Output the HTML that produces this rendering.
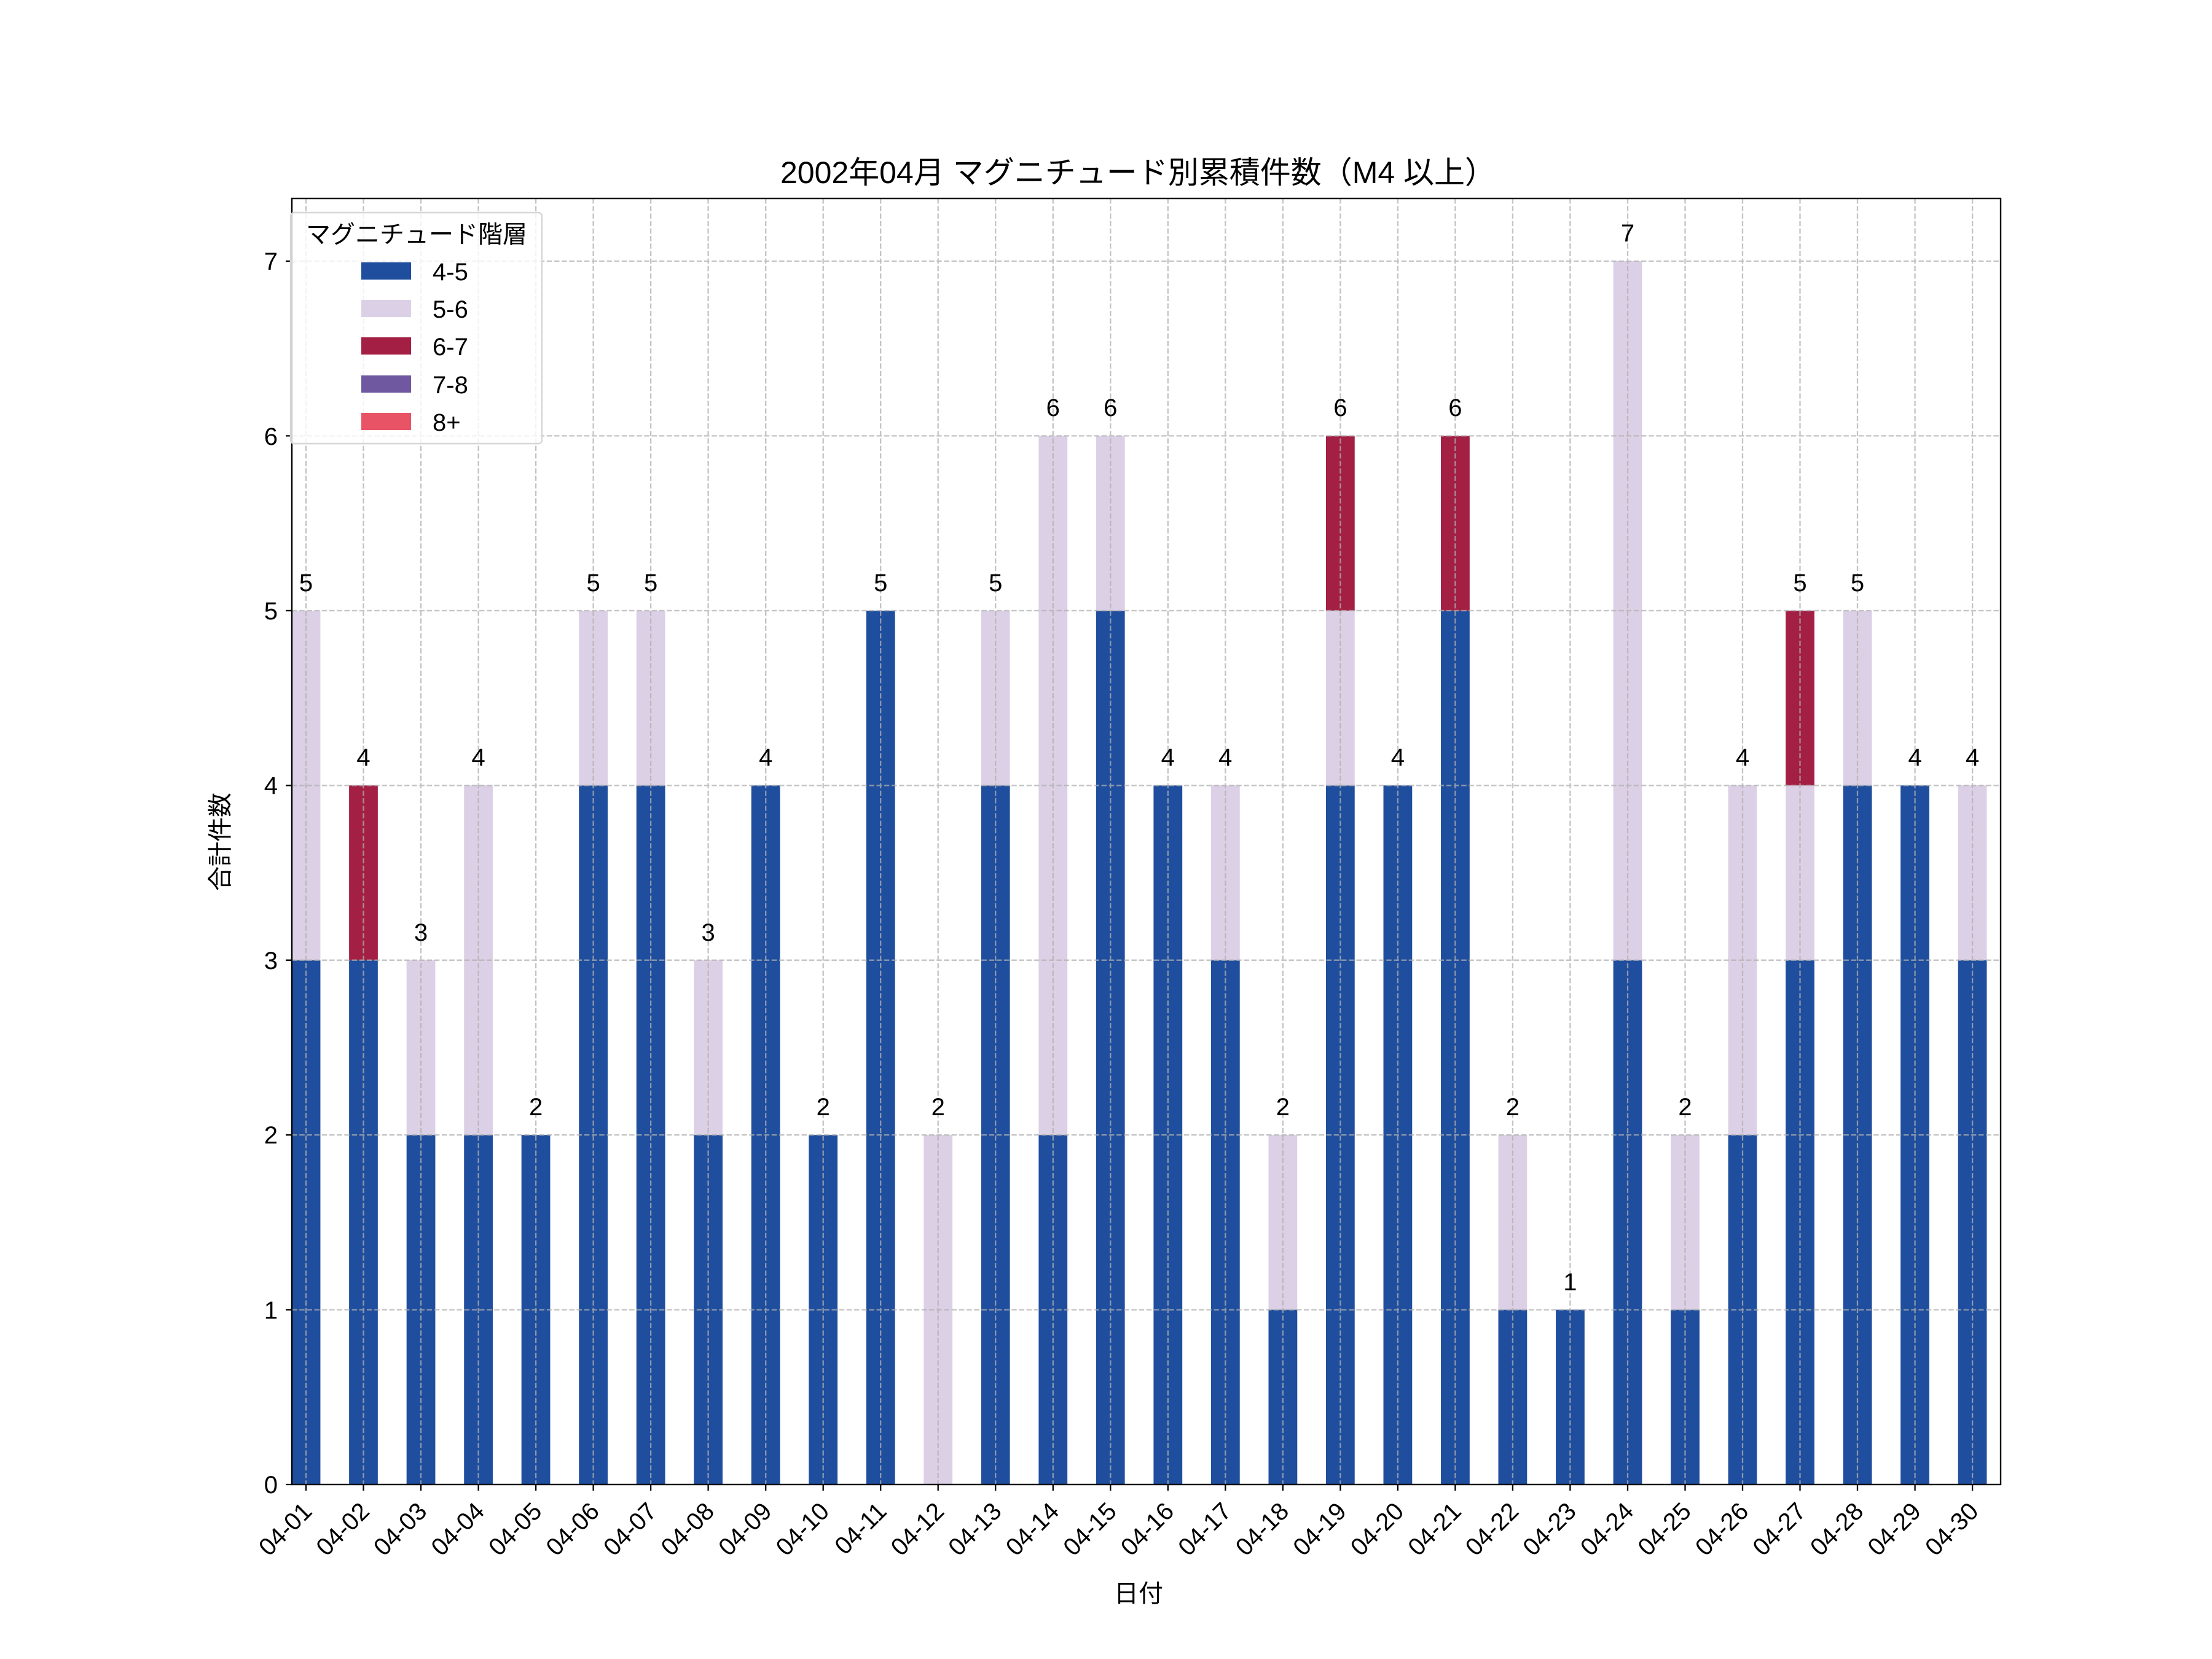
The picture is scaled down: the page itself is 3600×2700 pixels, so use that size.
<!DOCTYPE html>
<html><head><meta charset="utf-8"><style>
html,body{margin:0;padding:0;background:#fff;}
svg{display:block;}
text{font-family:"Liberation Sans","Noto Sans CJK JP",sans-serif;fill:#000;}
</style></head><body>
<svg width="3600" height="2700" viewBox="0 0 3600 2700" xmlns="http://www.w3.org/2000/svg">
<rect width="3600" height="2700" fill="#fff"/>
<text x="1852" y="298" font-size="50" text-anchor="middle">2002年04月 マグニチュード別累積件数（M4 以上）</text>
<!-- bars -->
<g transform="translate(42.53 2416) scale(0.99204 -284.43)">
<g fill="#1f4e9e">
<rect x="435.6" y="0" width="47.14" height="3"/>
<rect x="529.8" y="0" width="47.14" height="3"/>
<rect x="624.1" y="0" width="47.14" height="2"/>
<rect x="718.4" y="0" width="47.14" height="2"/>
<rect x="812.6" y="0" width="47.14" height="2"/>
<rect x="906.9" y="0" width="47.14" height="4"/>
<rect x="1001.2" y="0" width="47.14" height="4"/>
<rect x="1095.4" y="0" width="47.14" height="2"/>
<rect x="1189.7" y="0" width="47.14" height="4"/>
<rect x="1284.0" y="0" width="47.14" height="2"/>
<rect x="1378.3" y="0" width="47.14" height="5"/>
<rect x="1566.8" y="0" width="47.14" height="4"/>
<rect x="1661.1" y="0" width="47.14" height="2"/>
<rect x="1755.3" y="0" width="47.14" height="5"/>
<rect x="1849.6" y="0" width="47.14" height="4"/>
<rect x="1943.9" y="0" width="47.14" height="3"/>
<rect x="2038.2" y="0" width="47.14" height="1"/>
<rect x="2132.4" y="0" width="47.14" height="4"/>
<rect x="2226.7" y="0" width="47.14" height="4"/>
<rect x="2321.0" y="0" width="47.14" height="5"/>
<rect x="2415.2" y="0" width="47.14" height="1"/>
<rect x="2509.5" y="0" width="47.14" height="1"/>
<rect x="2603.8" y="0" width="47.14" height="3"/>
<rect x="2698.1" y="0" width="47.14" height="1"/>
<rect x="2792.3" y="0" width="47.14" height="2"/>
<rect x="2886.6" y="0" width="47.14" height="3"/>
<rect x="2980.9" y="0" width="47.14" height="4"/>
<rect x="3075.1" y="0" width="47.14" height="4"/>
<rect x="3169.4" y="0" width="47.14" height="3"/>
</g>
<g fill="#dcd0e6">
<rect x="435.6" y="3" width="47.14" height="2"/>
<rect x="624.1" y="2" width="47.14" height="1"/>
<rect x="718.4" y="2" width="47.14" height="2"/>
<rect x="906.9" y="4" width="47.14" height="1"/>
<rect x="1001.2" y="4" width="47.14" height="1"/>
<rect x="1095.4" y="2" width="47.14" height="1"/>
<rect x="1472.5" y="0" width="47.14" height="2"/>
<rect x="1566.8" y="4" width="47.14" height="1"/>
<rect x="1661.1" y="2" width="47.14" height="4"/>
<rect x="1755.3" y="5" width="47.14" height="1"/>
<rect x="1943.9" y="3" width="47.14" height="1"/>
<rect x="2038.2" y="1" width="47.14" height="1"/>
<rect x="2132.4" y="4" width="47.14" height="1"/>
<rect x="2415.2" y="1" width="47.14" height="1"/>
<rect x="2603.8" y="3" width="47.14" height="4"/>
<rect x="2698.1" y="1" width="47.14" height="1"/>
<rect x="2792.3" y="2" width="47.14" height="2"/>
<rect x="2886.6" y="3" width="47.14" height="1"/>
<rect x="2980.9" y="4" width="47.14" height="1"/>
<rect x="3169.4" y="3" width="47.14" height="1"/>
</g>
<g fill="#a31f44">
<rect x="529.8" y="3" width="47.14" height="1"/>
<rect x="2132.4" y="5" width="47.14" height="1"/>
<rect x="2321.0" y="5" width="47.14" height="1"/>
<rect x="2886.6" y="4" width="47.14" height="1"/>
</g>
</g>
<!-- grid -->
<g stroke="#b0b0b0" stroke-width="2.3" stroke-dasharray="8.5,3.7" opacity="0.75" fill="none">
<path d="M475 2131.6H3256M475 1847.1H3256M475 1562.7H3256M475 1278.3H3256M475 993.9H3256M475 709.4H3256M475 425H3256"/>
<path d="M498 323V2416M591.5 323V2416M685 323V2416M778.6 323V2416M872.1 323V2416M965.6 323V2416M1059.1 323V2416M1152.6 323V2416M1246.2 323V2416M1339.7 323V2416M1433.2 323V2416M1526.7 323V2416M1620.2 323V2416M1713.8 323V2416M1807.3 323V2416M1900.8 323V2416M1994.3 323V2416M2087.8 323V2416M2181.4 323V2416M2274.9 323V2416M2368.4 323V2416M2461.9 323V2416M2555.4 323V2416M2649 323V2416M2742.5 323V2416M2836 323V2416M2929.5 323V2416M3023 323V2416M3116.6 323V2416M3210.1 323V2416"/>
</g>
<!-- value labels -->
<g font-size="40" text-anchor="middle">
<text x="498" y="962">5</text>
<text x="591.5" y="1246">4</text>
<text x="685" y="1531">3</text>
<text x="778.6" y="1246">4</text>
<text x="872.1" y="1815">2</text>
<text x="965.6" y="962">5</text>
<text x="1059.1" y="962">5</text>
<text x="1152.6" y="1531">3</text>
<text x="1246.2" y="1246">4</text>
<text x="1339.7" y="1815">2</text>
<text x="1433.2" y="962">5</text>
<text x="1526.7" y="1815">2</text>
<text x="1620.2" y="962">5</text>
<text x="1713.8" y="677">6</text>
<text x="1807.3" y="677">6</text>
<text x="1900.8" y="1246">4</text>
<text x="1994.3" y="1246">4</text>
<text x="2087.8" y="1815">2</text>
<text x="2181.4" y="677">6</text>
<text x="2274.9" y="1246">4</text>
<text x="2368.4" y="677">6</text>
<text x="2461.9" y="1815">2</text>
<text x="2555.4" y="2100">1</text>
<text x="2649" y="393">7</text>
<text x="2742.5" y="1815">2</text>
<text x="2836" y="1246">4</text>
<text x="2929.5" y="962">5</text>
<text x="3023" y="962">5</text>
<text x="3116.6" y="1246">4</text>
<text x="3210.1" y="1246">4</text>
</g>
<!-- spines -->
<rect x="475" y="323" width="2781" height="2093" fill="none" stroke="#000" stroke-width="2.4"/>
<!-- ticks -->
<g stroke="#000" stroke-width="2.3">
<path d="M465 2416H475M465 2131.6H475M465 1847.1H475M465 1562.7H475M465 1278.3H475M465 993.9H475M465 709.4H475M465 425H475"/>
<path d="M498 2416v10M591.5 2416v10M685 2416v10M778.6 2416v10M872.1 2416v10M965.6 2416v10M1059.1 2416v10M1152.6 2416v10M1246.2 2416v10M1339.7 2416v10M1433.2 2416v10M1526.7 2416v10M1620.2 2416v10M1713.8 2416v10M1807.3 2416v10M1900.8 2416v10M1994.3 2416v10M2087.8 2416v10M2181.4 2416v10M2274.9 2416v10M2368.4 2416v10M2461.9 2416v10M2555.4 2416v10M2649 2416v10M2742.5 2416v10M2836 2416v10M2929.5 2416v10M3023 2416v10M3116.6 2416v10M3210.1 2416v10"/>
</g>
<g font-size="40" text-anchor="end">
<text x="452" y="2430">0</text>
<text x="452" y="2146">1</text>
<text x="452" y="1861">2</text>
<text x="452" y="1577">3</text>
<text x="452" y="1292">4</text>
<text x="452" y="1008">5</text>
<text x="452" y="724">6</text>
<text x="452" y="439">7</text>
</g>
<g font-size="40" text-anchor="end">
<text transform="translate(510 2462) rotate(-45)">04-01</text>
<text transform="translate(603.5 2462) rotate(-45)">04-02</text>
<text transform="translate(697 2462) rotate(-45)">04-03</text>
<text transform="translate(790.6 2462) rotate(-45)">04-04</text>
<text transform="translate(884.1 2462) rotate(-45)">04-05</text>
<text transform="translate(977.6 2462) rotate(-45)">04-06</text>
<text transform="translate(1071.1 2462) rotate(-45)">04-07</text>
<text transform="translate(1164.6 2462) rotate(-45)">04-08</text>
<text transform="translate(1258.2 2462) rotate(-45)">04-09</text>
<text transform="translate(1351.7 2462) rotate(-45)">04-10</text>
<text transform="translate(1445.2 2462) rotate(-45)">04-11</text>
<text transform="translate(1538.7 2462) rotate(-45)">04-12</text>
<text transform="translate(1632.2 2462) rotate(-45)">04-13</text>
<text transform="translate(1725.8 2462) rotate(-45)">04-14</text>
<text transform="translate(1819.3 2462) rotate(-45)">04-15</text>
<text transform="translate(1912.8 2462) rotate(-45)">04-16</text>
<text transform="translate(2006.3 2462) rotate(-45)">04-17</text>
<text transform="translate(2099.8 2462) rotate(-45)">04-18</text>
<text transform="translate(2193.4 2462) rotate(-45)">04-19</text>
<text transform="translate(2286.9 2462) rotate(-45)">04-20</text>
<text transform="translate(2380.4 2462) rotate(-45)">04-21</text>
<text transform="translate(2473.9 2462) rotate(-45)">04-22</text>
<text transform="translate(2567.4 2462) rotate(-45)">04-23</text>
<text transform="translate(2661 2462) rotate(-45)">04-24</text>
<text transform="translate(2754.5 2462) rotate(-45)">04-25</text>
<text transform="translate(2848 2462) rotate(-45)">04-26</text>
<text transform="translate(2941.5 2462) rotate(-45)">04-27</text>
<text transform="translate(3035 2462) rotate(-45)">04-28</text>
<text transform="translate(3128.6 2462) rotate(-45)">04-29</text>
<text transform="translate(3222.1 2462) rotate(-45)">04-30</text>
</g>
<text x="1853" y="2607" font-size="40" text-anchor="middle">日付</text>
<text transform="translate(372 1370) rotate(-90)" font-size="40" text-anchor="middle">合計件数</text>
<!-- legend -->
<rect x="473" y="346" width="409" height="376" rx="6" fill="#fff" fill-opacity="0.8" stroke="#d6d6d6" stroke-width="2.4"/>
<text x="678" y="395" font-size="40" text-anchor="middle">マグニチュード階層</text>
<rect x="588" y="427" width="81" height="28" fill="#1f4e9e"/>
<rect x="588" y="488" width="81" height="28" fill="#dcd0e6"/>
<rect x="588" y="549" width="81" height="28" fill="#a31f44"/>
<rect x="588" y="611" width="81" height="28" fill="#6f58a0"/>
<rect x="588" y="672" width="81" height="28" fill="#e85466"/>
<g font-size="40">
<text x="704" y="456">4-5</text>
<text x="704" y="517">5-6</text>
<text x="704" y="578">6-7</text>
<text x="704" y="640">7-8</text>
<text x="704" y="701">8+</text>
</g>
</svg>
</body></html>
